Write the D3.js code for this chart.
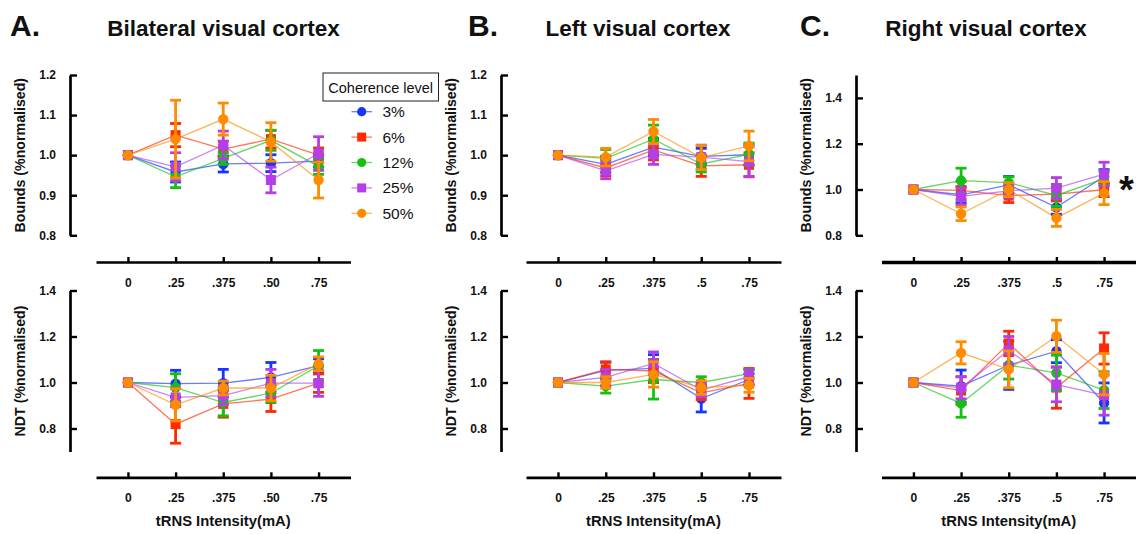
<!DOCTYPE html>
<html>
<head>
<meta charset="utf-8">
<script src="https://cdn.jsdelivr.net/npm/d3@7/dist/d3.min.js"></script>
<style>
  html, body { margin: 0; padding: 0; background: #fff; }
  svg { display: block; font-family: "Liberation Sans", Arial, sans-serif; }
</style>
</head>
<body>
<svg id="chart" width="1136" height="534"></svg>
<script>
// Coherence levels (series) and stimulation intensities (categories)
const coherence = ["3%", "6%", "12%", "25%", "50%"];
const seriesColors = ["#1636ff", "#ff2a00", "#14c014", "#b43fe8", "#ff8c00"];
const seriesShapes = ["circle", "square", "circle", "square", "circle"];
const dosesA = ["0", ".25", ".375", ".50", ".75"];
const dosesBC = ["0", ".25", ".375", ".5", ".75"];

// Decision bounds, normalised to 0 mA (rows = coherence levels)
const boundsBilateral = [
  [1, 0.958, 0.978, 0.980, 0.985],
  [1, 1.050, 1.015, 1.040, 1.000],
  [1, 0.946, 0.992, 1.037, 0.972],
  [1, 0.971, 1.025, 0.938, 1.004],
  [1, 1.040, 1.090, 1.033, 0.938]
];
const boundsBilateralErr = [
  [0, 0.025, 0.020, 0.021, 0.015],
  [0, 0.029, 0.020, 0.022, 0.018],
  [0, 0.027, 0.015, 0.025, 0.020],
  [0, 0.035, 0.035, 0.032, 0.042],
  [0, 0.097, 0.040, 0.048, 0.045]
];
const boundsLeft = [
  [1, 0.977, 1.020, 0.997, 1.001],
  [1, 0.968, 1.013, 0.973, 0.976],
  [1, 0.992, 1.040, 0.978, 1.002],
  [1, 0.961, 1.002, 0.995, 0.984],
  [1, 0.995, 1.059, 0.994, 1.023]
];
const boundsLeftErr = [
  [0, 0.020, 0.022, 0.020, 0.025],
  [0, 0.020, 0.025, 0.026, 0.030],
  [0, 0.022, 0.035, 0.020, 0.028],
  [0, 0.020, 0.025, 0.030, 0.037],
  [0, 0.022, 0.030, 0.030, 0.037]
];
const boundsRight = [
  [1, 0.977, 1.020, 0.922, 1.057],
  [1, 0.996, 0.973, 0.980, 0.999],
  [1, 1.039, 1.030, 0.974, 1.047],
  [1, 0.970, 0.994, 1.006, 1.067],
  [1, 0.894, 0.999, 0.876, 0.984]
];
const boundsRightErr = [
  [0, 0.035, 0.037, 0.030, 0.030],
  [0, 0.040, 0.030, 0.030, 0.030],
  [0, 0.054, 0.025, 0.048, 0.030],
  [0, 0.036, 0.030, 0.046, 0.052],
  [0, 0.030, 0.030, 0.037, 0.050]
];

// Non-decision time, normalised to 0 mA
const ndtBilateral = [
  [1, 0.995, 0.997, 1.022, 1.073],
  [1, 0.819, 0.907, 0.928, 0.997],
  [1, 0.978, 0.913, 0.954, 1.073],
  [1, 0.935, 0.943, 0.997, 0.997],
  [1, 0.903, 0.976, 0.976, 1.081]
];
const ndtBilateralErr = [
  [0, 0.058, 0.060, 0.065, 0.030],
  [0, 0.083, 0.058, 0.054, 0.040],
  [0, 0.060, 0.058, 0.040, 0.066],
  [0, 0.040, 0.040, 0.060, 0.057],
  [0, 0.070, 0.030, 0.055, 0.030]
];
const ndtLeft = [
  [1, 1.053, 1.061, 0.930, 1.013],
  [1, 1.057, 1.050, 0.955, 0.996],
  [1, 0.984, 1.013, 1.000, 1.039],
  [1, 1.022, 1.083, 0.967, 1.025],
  [1, 1.000, 1.035, 0.978, 0.988]
];
const ndtLeftErr = [
  [0, 0.035, 0.060, 0.058, 0.025],
  [0, 0.033, 0.050, 0.030, 0.065],
  [0, 0.030, 0.085, 0.025, 0.018],
  [0, 0.035, 0.050, 0.030, 0.030],
  [0, 0.025, 0.055, 0.030, 0.030]
];
const ndtRight = [
  [1, 0.984, 1.075, 1.136, 0.911],
  [1, 0.965, 1.170, 0.978, 1.148],
  [1, 0.909, 1.075, 1.042, 0.967],
  [1, 0.977, 1.140, 0.991, 0.945],
  [1, 1.129, 1.057, 1.201, 1.036]
];
const ndtRightErr = [
  [0, 0.070, 0.105, 0.050, 0.087],
  [0, 0.060, 0.053, 0.090, 0.068],
  [0, 0.060, 0.060, 0.077, 0.080],
  [0, 0.048, 0.060, 0.075, 0.087],
  [0, 0.048, 0.080, 0.070, 0.090]
];

const boundsTicksAB = [0.8, 0.9, 1.0, 1.1, 1.2];
const boundsTicksC = [0.8, 1.0, 1.2, 1.4];
const ndtTicks = [0.8, 1.0, 1.2, 1.4];

const svg = d3.select("#chart");

// Column geometry: y-axis position and x-axis extent per column
const columns = [
  { letter: "A.", title: "Bilateral visual cortex", yAxisX: 70, xRange: [96, 350.5], doses: dosesA,
    letterX: 10, titleX: 223.5,
    bounds: boundsBilateral, boundsErr: boundsBilateralErr, ndt: ndtBilateral, ndtErr: ndtBilateralErr,
    boundsDomain: [0.8, 1.2], boundsTicks: boundsTicksAB },
  { letter: "B.", title: "Left visual cortex", yAxisX: 501, xRange: [526, 781], doses: dosesBC,
    letterX: 468, titleX: 638,
    bounds: boundsLeft, boundsErr: boundsLeftErr, ndt: ndtLeft, ndtErr: ndtLeftErr,
    boundsDomain: [0.8, 1.2], boundsTicks: boundsTicksAB },
  { letter: "C.", title: "Right visual cortex", yAxisX: 856, xRange: [881.5, 1136], doses: dosesBC,
    letterX: 800, titleX: 986,
    bounds: boundsRight, boundsErr: boundsRightErr, ndt: ndtRight, ndtErr: ndtRightErr,
    boundsDomain: [0.8, 1.5], boundsTicks: boundsTicksC }
];

const topRow = { yRange: [235.3, 75], xAxisY: 262, label: "Bounds (%normalised)" };
const bottomRow = { yRange: [451.5, 290.5], xAxisY: 477.3, label: "NDT (%normalised)" };

function drawPanel(col, row, domain, ticks, values, errs, opts) {
  const g = svg.append("g");
  const x = d3.scalePoint().domain(col.doses).range(col.xRange).padding(0.67);
  const y = d3.scaleLinear().domain(domain).range(row.yRange);

  // y axis (ticks pointing inward)
  const yAxis = d3.axisLeft(y).tickValues(ticks).tickFormat(d3.format(".1f"))
    .tickSizeInner(-7).tickSizeOuter(0).tickPadding(14);
  const ya = g.append("g").attr("transform", `translate(${col.yAxisX},0)`).call(yAxis);
  ya.select(".domain").attr("stroke", "#000").attr("stroke-width", 2.7);
  ya.selectAll(".tick line").attr("stroke", "#000").attr("stroke-width", 2.4);
  ya.selectAll(".tick text").attr("fill", "#111").attr("font-size", 12).attr("font-weight", "bold");

  // x axis (ticks pointing up, labels below)
  const xAxis = d3.axisBottom(x).tickSizeInner(-5).tickSizeOuter(0).tickPadding(16);
  const xa = g.append("g").attr("transform", `translate(0,${row.xAxisY})`).call(xAxis);
  xa.select(".domain").attr("stroke", "#000").attr("stroke-width", opts.xAxisWidth || 2.7);
  xa.selectAll(".tick line").attr("stroke", "#000").attr("stroke-width", 2.4);
  xa.selectAll(".tick text").attr("fill", "#111").attr("font-size", 12).attr("font-weight", "bold");

  // y axis title
  const yMid = (row.yRange[0] + row.yRange[1]) / 2;
  g.append("text")
    .attr("transform", `translate(${col.yAxisX - 45},${yMid}) rotate(-90)`)
    .attr("text-anchor", "middle")
    .attr("font-size", 14.2).attr("font-weight", "bold").attr("fill", "#111")
    .text(row.label);

  // connecting lines for every coherence level
  const line = d3.line().x((d, i) => x(col.doses[i])).y(d => y(d));
  values.forEach((vals, s) => {
    g.append("path").datum(vals)
      .attr("d", line)
      .attr("fill", "none")
      .attr("stroke", seriesColors[s])
      .attr("stroke-opacity", 0.65)
      .attr("stroke-width", 1.3);
  });

  // error bars and markers, one coherence level after another
  values.forEach((vals, s) => {
    const c = seriesColors[s];
    const sg = g.append("g");
    vals.forEach((v, i) => {
      const e = errs[s][i];
      if (e <= 0) return;
      const cx = x(col.doses[i]);
      sg.append("line").attr("x1", cx).attr("x2", cx)
        .attr("y1", y(v - e)).attr("y2", y(v + e))
        .attr("stroke", c).attr("stroke-width", 2.8);
      [v - e, v + e].forEach(w => {
        sg.append("line").attr("x1", cx - 5.5).attr("x2", cx + 5.5)
          .attr("y1", y(w)).attr("y2", y(w))
          .attr("stroke", c).attr("stroke-width", 2.8);
      });
    });
    vals.forEach((v, i) => {
      const cx = x(col.doses[i]);
      if (seriesShapes[s] === "circle") {
        sg.append("circle").attr("cx", cx).attr("cy", y(v)).attr("r", 5.2).attr("fill", c);
      } else {
        sg.append("rect").attr("x", cx - 5).attr("y", y(v) - 5)
          .attr("width", 10).attr("height", 10).attr("fill", c);
      }
    });
  });
  return { x, y, g };
}

columns.forEach((col, ci) => {
  // panel letter and title
  svg.append("text").attr("x", col.letterX).attr("y", 36)
    .attr("font-size", 30).attr("font-weight", "bold").attr("fill", "#111").text(col.letter);
  svg.append("text").attr("x", col.titleX).attr("y", 36).attr("text-anchor", "middle")
    .attr("font-size", 22.5).attr("font-weight", "bold").attr("fill", "#111").text(col.title);

  drawPanel(col, topRow, col.boundsDomain, col.boundsTicks, col.bounds, col.boundsErr,
    { xAxisWidth: ci === 2 ? 3.3 : 2.7 });
  drawPanel(col, bottomRow, [0.7, 1.4], ndtTicks, col.ndt, col.ndtErr, {});

  // x axis title under the NDT row
  const xMid = (col.xRange[0] + col.xRange[1]) / 2;
  svg.append("text").attr("x", xMid).attr("y", 526).attr("text-anchor", "middle")
    .attr("font-size", 14.8).attr("font-weight", "bold").attr("fill", "#111")
    .text("tRNS Intensity(mA)");
});

// significance marker beside the right-hemisphere bounds panel
svg.append("text").attr("x", 1119).attr("y", 203)
  .attr("font-size", 38).attr("font-weight", "bold").attr("fill", "#111").text("*");

// legend
const legend = svg.append("g");
legend.append("rect").attr("x", 323).attr("y", 73).attr("width", 115.5).attr("height", 28)
  .attr("fill", "#fff").attr("stroke", "#222").attr("stroke-width", 1);
legend.append("text").attr("x", 380.7).attr("y", 92.5).attr("text-anchor", "middle")
  .attr("font-size", 14.5).attr("fill", "#111").text("Coherence level");
coherence.forEach((name, s) => {
  const ly = 111.7 + s * 25.4;
  const c = seriesColors[s];
  legend.append("line").attr("x1", 351.5).attr("x2", 372).attr("y1", ly).attr("y2", ly)
    .attr("stroke", c).attr("stroke-opacity", 0.65).attr("stroke-width", 1.3);
  if (seriesShapes[s] === "circle") {
    legend.append("circle").attr("cx", 361.7).attr("cy", ly).attr("r", 4.6).attr("fill", c);
  } else {
    legend.append("rect").attr("x", 357.2).attr("y", ly - 4.5).attr("width", 9).attr("height", 9).attr("fill", c);
  }
  legend.append("text").attr("x", 382.5).attr("y", ly + 5.5)
    .attr("font-size", 15.5).attr("fill", "#111").text(name);
});
</script>
</body>
</html>
